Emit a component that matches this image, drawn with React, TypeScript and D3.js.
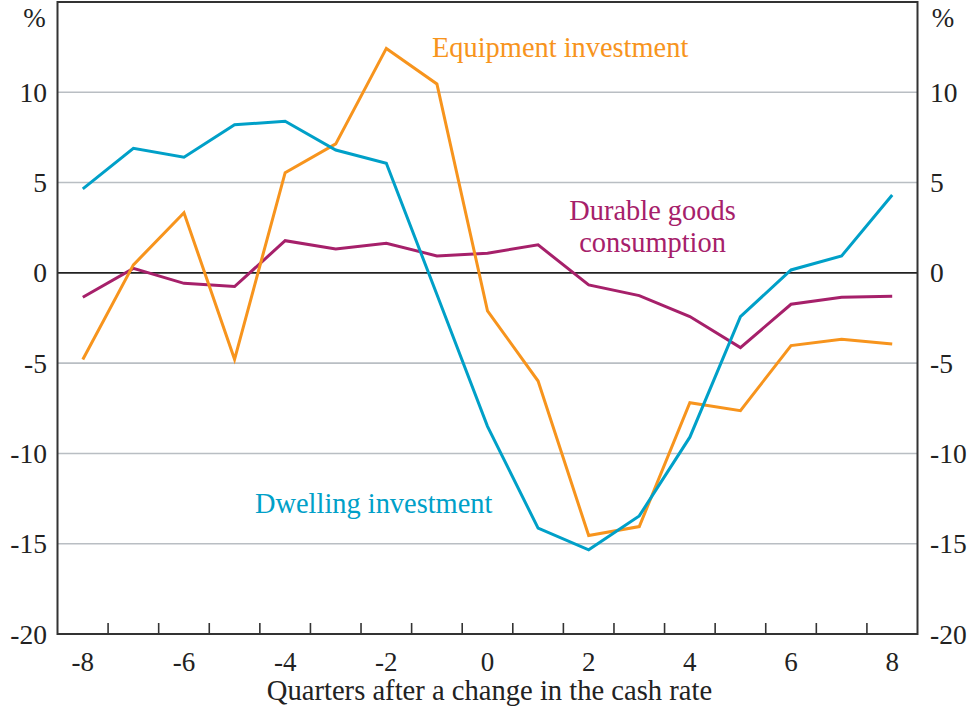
import React from "react";
import * as d3 from "d3";

const quarters = [-8, -7, -6, -5, -4, -3, -2, -1, 0, 1, 2, 3, 4, 5, 6, 7, 8];
const dwelling = [4.65, 6.9, 6.4, 8.2, 8.4, 6.8, 6.07, -1.2, -8.5, -14.14, -15.34, -13.46, -9.1, -2.42, 0.16, 0.94, 4.31];
const equipment = [-4.8, 0.44, 3.33, -4.79, 5.55, 7.14, 12.43, 10.46, -2.1, -5.99, -14.55, -14.05, -7.19, -7.63, -4.03, -3.68, -3.94];
const durable = [-1.35, 0.25, -0.58, -0.76, 1.78, 1.32, 1.64, 0.94, 1.09, 1.55, -0.67, -1.26, -2.42, -4.14, -1.74, -1.35, -1.3];
const yTicks = [-20, -15, -10, -5, 0, 5, 10];
const xTickLabels = [-8, -6, -4, -2, 0, 2, 4, 6, 8];

const W = 973;
const H = 715;
const left = 57.5;
const right = 917.5;
const top = 2;
const bottom = 634;
const FONT = "'Liberation Serif', 'Times New Roman', serif";
const BLUE = "#00A0C8";
const ORANGE = "#F7941D";
const PURPLE = "#A6206A";

export default function App() {
  const x = d3.scaleLinear().domain([-8.5, 8.5]).range([left, right]);
  const y = d3.scaleLinear().domain([-20, 15]).range([bottom, top]);
  const line = d3
    .line<number>()
    .x((_, i) => x(quarters[i]))
    .y((d) => y(d));
  const minorTicks = d3.range(-7.5, 8, 1);
  const series = [
    { data: durable, color: PURPLE },
    { data: equipment, color: ORANGE },
    { data: dwelling, color: BLUE },
  ];
  return (
    <svg
      width={W}
      height={H}
      style={{ position: "absolute", left: 0, top: 0, background: "#fff" }}
      fontFamily={FONT}
    >
      {yTicks
        .filter((t) => t !== 0 && t !== -20)
        .map((t) => (
          <line key={t} x1={left} x2={right} y1={y(t)} y2={y(t)} stroke="#B9BEC3" strokeWidth={1.6} />
        ))}
      <line x1={left} x2={right} y1={y(0)} y2={y(0)} stroke="#222" strokeWidth={1.6} />
      {minorTicks.map((t) => (
        <line key={t} x1={x(t)} x2={x(t)} y1={bottom} y2={bottom - 11} stroke="#333" strokeWidth={1.6} />
      ))}
      {series.map((s, i) => (
        <path key={i} d={line(s.data) || ""} fill="none" stroke={s.color} strokeWidth={3} strokeLinejoin="miter" />
      ))}
      <rect x={left} y={top} width={right - left} height={bottom - top} fill="none" stroke="#333" strokeWidth={2} />
      {yTicks.map((t) => (
        <g key={t} fontSize={27.5} fill="#222">
          <text x={47} y={y(t)} dy="0.35em" textAnchor="end">
            {t}
          </text>
          <text x={930} y={y(t)} dy="0.35em" textAnchor="start">
            {t}
          </text>
        </g>
      ))}
      <text x={34.5} y={y(15) + 25} fontSize={27} textAnchor="middle" fill="#222">%</text>
      <text x={943} y={y(15) + 25} fontSize={27} textAnchor="middle" fill="#222">%</text>
      {xTickLabels.map((t) => (
        <text key={t} x={x(t)} y={670.5} fontSize={27} textAnchor="middle" fill="#222">
          {t}
        </text>
      ))}
      <text x={489.5} y={699.5} fontSize={28.6} textAnchor="middle" fill="#222">
        Quarters after a change in the cash rate
      </text>
      <text x={432} y={57} fontSize={28.4} fill={ORANGE}>Equipment investment</text>
      <text x={652.5} y={220} fontSize={28.4} fill={PURPLE} textAnchor="middle">Durable goods</text>
      <text x={652.5} y={252} fontSize={28.4} fill={PURPLE} textAnchor="middle">consumption</text>
      <text x={255} y={513} fontSize={28.4} fill={BLUE}>Dwelling investment</text>
    </svg>
  );
}
